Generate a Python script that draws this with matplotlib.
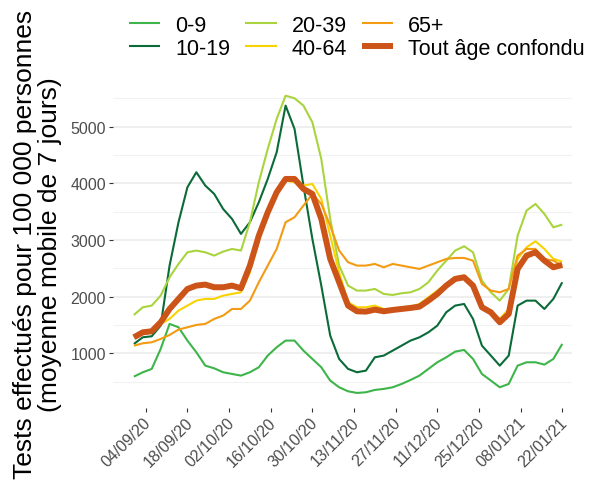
import matplotlib
matplotlib.use("Agg")
import matplotlib.pyplot as plt
import matplotlib.dates as mdates
import matplotlib.transforms as mtransforms
import pandas as pd

plt.rcParams['font.family'] = ['Liberation Sans', 'DejaVu Sans']

# Données (un point tous les 3 jours)
dates = pd.date_range('2020-08-31', periods=49, freq='3D')

age_0_9 = [588, 665, 724, 1076, 1518, 1459, 1224, 1018, 782, 735, 665, 635, 606,
           665, 753, 959, 1106, 1224, 1224, 1047, 900, 753, 518, 400, 329, 300,
           312, 353, 371, 400, 459, 529, 606, 724, 841, 929, 1029, 1059, 900, 635,
           518, 400, 459, 782, 841, 841, 800, 900, 1165]
age_10_19 = [1165, 1282, 1300, 1488, 2547, 3312, 3930, 4194, 3959, 3812, 3547, 3370,
             3106, 3312, 3665, 4076, 4547, 5370, 4959, 3959, 3018, 2194, 1312, 900,
             724, 665, 694, 929, 959, 1047, 1135, 1224, 1282, 1370, 1488, 1723, 1841,
             1870, 1606, 1135, 959, 782, 959, 1841, 1929, 1929, 1782, 1959, 2253]
age_20_39 = [1676, 1812, 1841, 2018, 2341, 2576, 2782, 2812, 2782, 2723, 2794, 2841,
             2812, 3312, 4018, 4606, 5135, 5545, 5500, 5370, 5076, 4429, 3371, 2547,
             2194, 2106, 2106, 2135, 2047, 2029, 2059, 2076, 2135, 2253, 2459, 2635,
             2812, 2888, 2782, 2282, 2076, 1929, 2135, 3076, 3518, 3635, 3459, 3223, 3270]
age_40_64 = [1282, 1370, 1400, 1518, 1606, 1753, 1841, 1929, 1959, 1959, 2018, 2047,
             2076, 2429, 3018, 3488, 3841, 4047, 4018, 3959, 3988, 3723, 3076, 2429,
             1900, 1812, 1812, 1841, 1782, 1782, 1812, 1823, 1870, 1988, 2106, 2223,
             2341, 2370, 2194, 1841, 1723, 1606, 1782, 2665, 2870, 2976, 2841, 2665, 2617]
age_65 = [1135, 1176, 1194, 1253, 1323, 1418, 1459, 1500, 1518, 1606, 1665, 1782,
          1782, 1929, 2253, 2547, 2841, 3312, 3400, 3606, 3812, 3635, 3253, 2812,
          2606, 2547, 2547, 2576, 2517, 2576, 2547, 2517, 2488, 2547, 2606, 2665,
          2682, 2682, 2635, 2223, 2106, 2076, 2135, 2723, 2841, 2841, 2665, 2635, 2547]
tout_age = [1282, 1370, 1388, 1547, 1782, 1959, 2135, 2194, 2212, 2165, 2165, 2194,
            2147, 2547, 3076, 3488, 3841, 4076, 4076, 3900, 3812, 3371, 2665, 2253,
            1841, 1741, 1735, 1770, 1741, 1764, 1782, 1800, 1823, 1929, 2047, 2194,
            2312, 2341, 2194, 1812, 1723, 1547, 1694, 2488, 2723, 2782, 2635, 2517, 2559]

labels = ['0-9', '10-19', '20-39', '40-64', '65+', 'Tout âge confondu']
series = [age_0_9, age_10_19, age_20_39, age_40_64, age_65, tout_age]
couleurs = ['#3db54a', '#0b6b38', '#a9d43d', '#f7d302', '#f39b12', '#cc5418']
epaisseurs = [1.5, 1.5, 1.5, 1.5, 1.5, 4.3]

tick_dates = pd.date_range('2020-09-04', '2021-01-22', freq='14D')

fig = plt.figure(figsize=(6, 4.85), dpi=100)
ax = fig.add_axes([0.188, 0.157, 0.765, 0.676])

for y, lab, c, lw in zip(series, labels, couleurs, epaisseurs):
    ax.plot(dates, y, color=c, linewidth=lw, label=lab,
            solid_joinstyle='round', solid_capstyle='butt')

# Axes et grille style ggplot minimal
ax.set_xlim(dates[0] - pd.Timedelta(hours=170), dates[-1] + pd.Timedelta(hours=77))
ax.set_ylim(37, 5822)
ax.set_yticks([1000, 2000, 3000, 4000, 5000])
ax.set_yticks([500, 1500, 2500, 3500, 4500, 5500], minor=True)
ax.grid(True, axis='y', which='major', color='#ebebeb', linewidth=1.1)
ax.grid(True, axis='y', which='minor', color='#f2f2f2', linewidth=0.8)
ax.set_axisbelow(True)
for s in ax.spines.values():
    s.set_visible(False)

ax.set_xticks(tick_dates)
ax.xaxis.set_major_formatter(mdates.DateFormatter('%d/%m/%y'))
ax.tick_params(axis='both', which='major', length=3, width=0.8, color='#333333',
               labelcolor='#4d4d4d', labelsize=11.5, pad=2)
ax.tick_params(axis='y', which='minor', length=0)
decal = mtransforms.ScaledTranslation(0.08, 0, fig.dpi_scale_trans)
for t in ax.get_xticklabels():
    t.set_rotation(45)
    t.set_ha('right')
    t.set_transform(t.get_transform() + decal)

ax.set_ylabel('Tests effectués pour 100 000 personnes\n(moyenne mobile de 7 jours)',
              fontsize=19, linespacing=1.05)
ax.yaxis.set_label_coords(-0.11, 0.5)

fig.legend(loc='upper left', bbox_to_anchor=(0.215, 0.968), ncol=3, frameon=False,
           fontsize=15.5, handlelength=1.45, handletextpad=0.7, columnspacing=0.7,
           labelspacing=0.1, borderpad=0, borderaxespad=0)

fig.savefig('out.png', dpi=100)
